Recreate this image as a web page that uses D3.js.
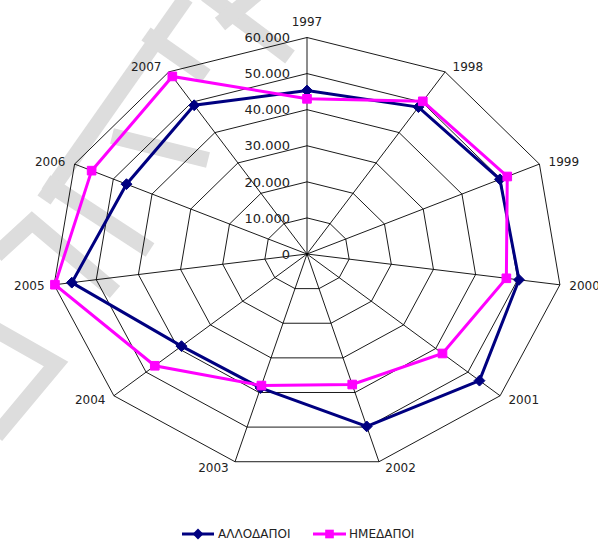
<!DOCTYPE html>
<html>
<head>
<meta charset="utf-8">
<script src="https://cdn.jsdelivr.net/npm/d3@7"></script>
<style>
  html, body { margin: 0; padding: 0; background: #ffffff; }
  svg { display: block; font-family: "DejaVu Sans", Verdana, sans-serif; }
</style>
</head>
<body>
<svg id="chart" width="598" height="540"></svg>
<script>
// Years on the spokes of the radar
const categories = ["1997", "1998", "1999", "2000", "2001", "2002", "2003", "2004", "2005", "2006", "2007"];

// Series values per year
const allodapoi = [45300, 48400, 49800, 50300, 53600, 49800, 38700, 39000, 55800, 46600, 49000];
const imedapoi  = [43000, 50300, 51700, 47300, 42100, 37700, 38000, 47300, 59800, 55600, 58500];

// Radial axis ticks
const ringTicks = [0, 10000, 20000, 30000, 40000, 50000, 60000];

const seriesNames = ["ΑΛΛΟΔΑΠΟΙ", "ΗΜΕΔΑΠΟΙ"];

const svg = d3.select("#chart");
const cx = 307, cy = 254;       // centre of the radar
const rx = 255.5, ry = 216.5;   // horizontal / vertical outer radius

const grLocale = d3.formatLocale({ decimal: ",", thousands: ".", grouping: [3], currency: ["", "€"] });
const fmt = grLocale.format(",");

const angle = d3.scaleLinear().domain([0, categories.length]).range([0, 2 * Math.PI]);
const rX = d3.scaleLinear().domain([0, 60000]).range([0, rx]);
const rY = d3.scaleLinear().domain([0, 60000]).range([0, ry]);

const px = (i, v) => cx + rX(v) * Math.sin(angle(i));
const py = (i, v) => cy - rY(v) * Math.cos(angle(i));

// ---- background watermark strokes ----
const wm = svg.append("g")
  .attr("fill", "none")
  .attr("stroke", "#dddddd")
  .attr("stroke-width", 16)
  .attr("stroke-linecap", "butt")
  .attr("stroke-linejoin", "miter");
const wmPaths = [
  [[186, -2], [44, 200]],
  [[206, -6], [290, 57]],
  [[256, -6], [220, 24]],
  [[146, 34], [206, 76]],
  [[112, 136], [208, 160]],
  [[46, 182], [150, 250]],
  [[-4, 255], [32, 222], [115, 292]],
  [[-4, 330], [56, 364], [-4, 436]]
];
wmPaths.forEach(p => wm.append("path").attr("d", d3.line()(p)));

// ---- grid ----
const grid = svg.append("g").attr("fill", "none").attr("stroke", "#000").attr("stroke-width", 0.9);
ringTicks.filter(t => t > 0).forEach(t => {
  const pts = categories.map((c, i) => [px(i, t), py(i, t)]);
  grid.append("path").attr("d", d3.line().curve(d3.curveLinearClosed)(pts));
});
categories.forEach((c, i) => {
  grid.append("line")
    .attr("x1", cx).attr("y1", cy)
    .attr("x2", px(i, 60000)).attr("y2", py(i, 60000));
});

// ---- radial tick labels ----
svg.append("g").selectAll("text")
  .data(ringTicks)
  .join("text")
  .attr("x", cx - 17)
  .attr("y", d => cy - rY(d))
  .attr("dy", "0.36em")
  .attr("text-anchor", "end")
  .attr("font-size", 13)
  .attr("fill", "#222")
  .text(d => fmt(d));

// ---- category labels ----
svg.append("g").selectAll("text")
  .data(categories)
  .join("text")
  .attr("font-size", 12)
  .attr("fill", "#222")
  .each(function (d, i) {
    const a = angle(i);
    const s = Math.sin(a), c = Math.cos(a);
    const vx = px(i, 60000), vy = py(i, 60000);
    const sel = d3.select(this);
    if (i === 0) {
      sel.attr("x", vx).attr("y", vy - 12).attr("text-anchor", "middle");
    } else {
      const off = 5 + 4.5 * Math.abs(s);
      sel.attr("x", s > 0 ? vx + off : vx - off)
        .attr("y", vy - 6 * c)
        .attr("dy", "0.36em")
        .attr("text-anchor", s > 0 ? "start" : "end");
    }
  })
  .text(d => d);

// ---- series ----
const series = [
  { name: seriesNames[0], values: allodapoi, color: "#000080", marker: d3.symbolDiamond2, size: 75 },
  { name: seriesNames[1], values: imedapoi,  color: "#ff00ff", marker: d3.symbolSquare2,  size: 95 }
];

const lineGen = d3.line().curve(d3.curveLinearClosed);

series.forEach(s => {
  const pts = s.values.map((v, i) => [px(i, v), py(i, v)]);
  const g = svg.append("g");
  g.append("path")
    .attr("d", lineGen(pts))
    .attr("fill", "none")
    .attr("stroke", s.color)
    .attr("stroke-width", 3)
    .attr("stroke-linejoin", "miter");
  g.selectAll("path.mk")
    .data(pts)
    .join("path")
    .attr("class", "mk")
    .attr("transform", d => `translate(${d[0]},${d[1]})`)
    .attr("d", d3.symbol().type(s.marker).size(s.size)())
    .attr("fill", s.color)
    .attr("stroke", s.color)
    .attr("stroke-width", 1);
});

// ---- legend ----
const legendY = 534;
const legendItems = [
  { s: series[0], x0: 182, x1: 214, tx: 218 },
  { s: series[1], x0: 313, x1: 346, tx: 349 }
];
const lg = svg.append("g");
legendItems.forEach(it => {
  lg.append("line")
    .attr("x1", it.x0).attr("x2", it.x1)
    .attr("y1", legendY).attr("y2", legendY)
    .attr("stroke", it.s.color).attr("stroke-width", 3);
  lg.append("path")
    .attr("transform", `translate(${(it.x0 + it.x1) / 2},${legendY})`)
    .attr("d", d3.symbol().type(it.s.marker).size(it.s.size)())
    .attr("fill", it.s.color);
  lg.append("text")
    .attr("x", it.tx).attr("y", legendY)
    .attr("dy", "0.36em")
    .attr("font-size", 12)
    .attr("fill", "#222")
    .text(it.s.name);
});
</script>
</body>
</html>
